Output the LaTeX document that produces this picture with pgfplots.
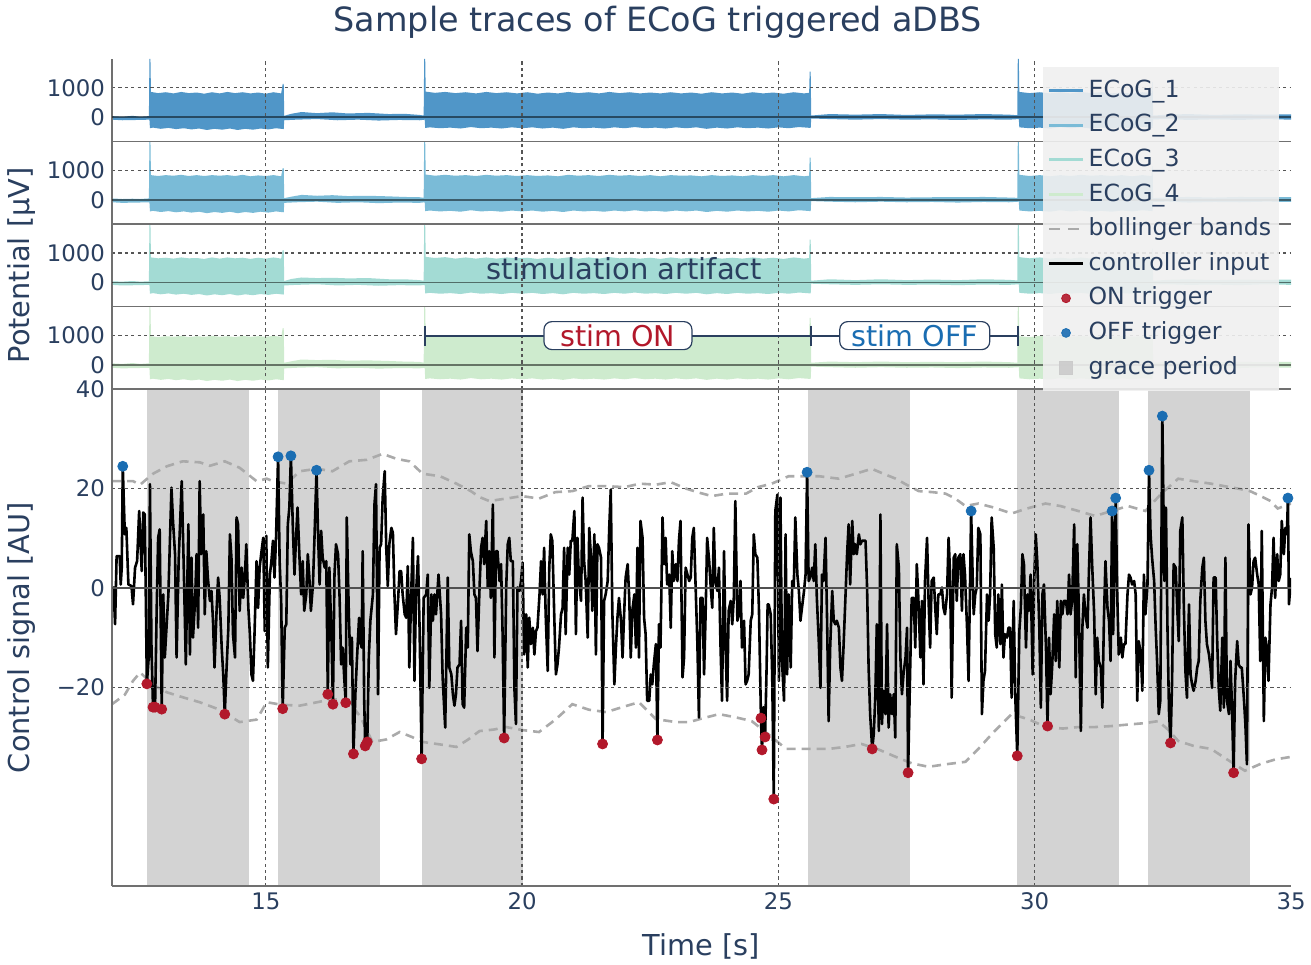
\documentclass[border=0pt]{standalone}
\usepackage{fontspec}
\setmainfont{DejaVu Sans}
\usepackage{pgfplots}
\usepackage{pgfplotstable}
\pgfplotsset{compat=1.18}

\definecolor{txt}{HTML}{2A3F5F}
\definecolor{ecogA}{HTML}{5096C8}
\definecolor{ecogB}{HTML}{7ABBD7}
\definecolor{ecogC}{HTML}{A3DBD4}
\definecolor{ecogD}{HTML}{CEEBCE}
\definecolor{onred}{HTML}{B2182B}
\definecolor{offblue}{HTML}{1A6DB2}
\definecolor{gracec}{HTML}{D3D3D3}
\definecolor{bband}{HTML}{AAAAAA}
\definecolor{axgray}{HTML}{707070}
\definecolor{gridc}{HTML}{555555}
\definecolor{zeroc}{HTML}{505050}
\definecolor{legbg}{HTML}{F0F0F0}

\pgfplotsset{
  panel/.style={scale only axis, width=589.5pt, xmin=12, xmax=35,
    axis x line*=bottom, axis y line*=left,
    axis line style={-, draw=axgray, line width=0.8pt},
    major tick length=0pt, axis on top,
    xmajorgrids, ymajorgrids,
    major grid style={draw=gridc, line width=0.6pt, dash pattern=on 1.6pt off 1.6pt},
    tick label style={font=\fontsize{11.4}{13}\selectfont, text=txt},
    xtick={15,20,25,30}},
  ecog/.style={panel, height=41.3pt, ymin=-820, ymax=1980,
    ytick={1000}, yticklabels={1000},
    extra y ticks={0}, extra y tick labels={0},
    extra y tick style={major grid style={solid, draw=black, opacity=0.5, line width=0.9pt}},
    xticklabels={}},
}

% ECoG envelopes (upper edge left->right, lower edge right->left), microvolts
\pgfplotstableread{
x e1 e2 e3 e4
12.00 40 50 40 60
12.20 20 30 30 40
12.40 50 40 50 70
12.55 20 30 30 40
12.72 40 50 40 60
12.73 1980 1980 1980 1980
12.75 1980 1980 1980 1980
12.76 860 840 850 980
12.90 820 810 820 950
13.05 850 840 840 980
13.20 810 820 810 960
13.35 860 850 850 990
13.50 820 810 820 950
13.65 840 840 830 980
13.80 800 810 800 960
13.95 850 840 850 990
14.10 810 820 810 960
14.25 860 840 850 980
14.40 820 810 820 950
14.55 850 850 840 990
14.70 810 800 800 960
14.85 840 830 840 980
15.00 800 810 810 960
15.15 850 840 850 990
15.30 810 800 810 960
15.33 1130 1080 1100 1250
15.35 1130 1080 1100 1250
15.36 50 60 50 80
15.50 120 110 120 130
15.70 180 170 170 190
16.00 140 140 150 170
16.30 170 160 160 180
16.60 130 130 140 150
17.00 150 140 150 160
17.40 110 120 110 140
17.70 120 100 110 120
18.00 80 90 80 110
18.08 60 70 60 80
18.09 1980 1980 1980 1980
18.11 1980 1980 1980 1980
18.12 870 860 870 990
18.30 830 820 830 960
18.50 860 850 860 990
18.70 820 820 810 950
18.90 850 840 850 990
19.10 810 810 810 960
19.30 860 850 850 980
19.50 820 820 810 950
19.70 850 840 850 990
19.90 810 810 820 960
20.10 850 840 840 980
20.30 800 810 800 950
20.50 840 830 840 980
20.70 810 800 810 960
20.90 860 850 850 990
21.10 820 820 810 950
21.30 850 840 850 980
21.50 810 810 810 960
21.70 860 850 860 990
21.90 820 820 820 950
22.10 850 840 840 980
22.30 810 810 810 960
22.50 840 840 840 990
22.70 810 800 800 950
22.90 850 840 850 980
23.10 810 820 810 960
23.30 840 830 840 990
23.50 800 800 800 950
23.70 850 840 850 980
23.90 810 810 810 960
24.10 840 830 840 990
24.30 800 800 810 950
24.50 850 840 850 980
24.70 810 810 810 960
24.90 840 840 840 990
25.10 800 800 800 950
25.30 850 840 850 980
25.50 810 800 810 950
25.60 830 820 830 960
25.61 1550 1430 1450 1600
25.63 1550 1430 1450 1600
25.64 60 60 60 80
26.00 110 100 110 120
26.50 90 90 80 100
27.00 110 100 110 120
27.50 80 80 80 100
28.00 100 90 100 110
28.50 90 90 80 100
29.00 110 100 110 120
29.50 90 80 90 100
29.66 70 70 70 80
29.67 1980 1980 1980 1980
29.69 1980 1980 1980 1980
29.70 860 850 860 980
29.90 820 810 820 950
30.10 850 840 850 990
30.30 810 800 810 960
30.50 850 840 840 980
30.70 810 810 810 950
30.90 860 850 850 990
31.10 820 820 810 960
31.30 850 840 850 980
31.50 810 810 810 950
31.70 840 840 840 990
31.90 800 800 800 960
32.10 850 840 850 980
32.28 820 810 820 960
32.29 1200 1150 1150 1300
32.30 1200 1150 1150 1300
32.31 60 60 60 80
32.60 90 90 90 110
33.00 110 100 110 120
33.50 80 80 80 100
34.00 100 100 100 110
34.50 90 90 90 100
35.00 100 90 100 110
35.00 -80 -70 -80 -90
34.50 -60 -60 -60 -70
34.00 -90 -80 -90 -100
33.50 -70 -70 -70 -80
33.00 -90 -90 -80 -100
32.60 -60 -60 -60 -70
32.31 -70 -70 -70 -80
32.30 -360 -380 -380 -470
32.10 -330 -350 -350 -440
31.90 -370 -390 -380 -480
31.70 -340 -360 -360 -450
31.50 -380 -400 -390 -490
31.30 -350 -370 -360 -460
31.10 -380 -400 -390 -480
30.90 -340 -360 -350 -450
30.70 -370 -390 -380 -480
30.50 -330 -350 -350 -440
30.30 -380 -400 -390 -490
30.10 -350 -370 -360 -460
29.90 -370 -390 -380 -480
29.70 -340 -360 -350 -450
29.69 -60 -60 -60 -70
29.50 -80 -80 -80 -90
29.00 -70 -70 -70 -80
28.50 -90 -90 -90 -100
28.00 -70 -70 -70 -80
27.50 -80 -80 -80 -90
27.00 -60 -60 -60 -70
26.50 -80 -80 -80 -90
26.00 -60 -60 -60 -70
25.64 -40 -40 -40 -50
25.63 -360 -380 -370 -470
25.40 -330 -350 -340 -440
25.20 -370 -390 -380 -480
25.00 -340 -360 -350 -450
24.80 -380 -400 -390 -490
24.60 -350 -370 -360 -460
24.40 -370 -390 -380 -480
24.20 -340 -360 -350 -450
24.00 -380 -400 -390 -490
23.80 -350 -370 -360 -460
23.60 -390 -410 -400 -500
23.40 -340 -360 -350 -450
23.20 -370 -390 -380 -480
23.00 -340 -360 -350 -450
22.80 -380 -400 -390 -490
22.60 -350 -370 -360 -460
22.40 -370 -390 -380 -480
22.20 -330 -350 -340 -440
22.00 -370 -390 -380 -480
21.80 -340 -360 -350 -450
21.60 -380 -400 -390 -490
21.40 -350 -370 -360 -460
21.20 -370 -390 -380 -480
21.00 -340 -360 -350 -450
20.80 -390 -410 -400 -500
20.60 -350 -370 -360 -460
20.40 -380 -400 -390 -490
20.20 -340 -360 -350 -450
20.00 -370 -390 -380 -480
19.80 -340 -360 -350 -450
19.60 -380 -400 -390 -490
19.40 -350 -370 -360 -460
19.20 -370 -390 -380 -480
19.00 -330 -350 -340 -440
18.80 -380 -400 -390 -490
18.60 -350 -370 -360 -460
18.40 -370 -390 -380 -480
18.20 -340 -360 -350 -450
18.11 -360 -380 -370 -470
18.10 -80 -80 -80 -90
18.00 -100 -100 -100 -110
17.60 -90 -90 -90 -100
17.20 -110 -110 -110 -120
16.80 -80 -80 -80 -90
16.40 -100 -100 -100 -110
16.00 -60 -60 -60 -70
15.60 -80 -80 -80 -90
15.36 -100 -100 -100 -110
15.35 -400 -420 -410 -510
15.20 -370 -390 -380 -480
15.05 -410 -430 -420 -520
14.90 -380 -400 -390 -490
14.75 -420 -440 -430 -530
14.60 -390 -410 -400 -500
14.45 -430 -450 -440 -540
14.30 -380 -400 -390 -490
14.15 -420 -440 -430 -530
14.00 -390 -410 -400 -500
13.85 -430 -450 -440 -540
13.70 -380 -400 -390 -490
13.55 -410 -430 -420 -520
13.40 -370 -390 -380 -480
13.25 -400 -420 -410 -510
13.10 -360 -380 -370 -470
12.95 -390 -410 -400 -500
12.80 -350 -370 -360 -460
12.74 -370 -390 -380 -480
12.73 -80 -80 -80 -90
12.50 -90 -90 -90 -100
12.20 -100 -100 -100 -110
12.00 -80 -80 -80 -90
}\ecogtab

% controller input
\pgfplotstableread{
x y
12.00 0.0
12.03 0.1
12.06 -7.3
12.09 6.4
12.15 6.4
12.17 0.7
12.19 4.1
12.21 24.5
12.25 10.8
12.28 12.1
12.32 0.7
12.38 0.4
12.41 -3.3
12.45 4.1
12.49 5.4
12.53 15.5
12.58 3.4
12.61 15.2
12.64 14.8
12.68 -19.3
12.72 -13.4
12.74 20.9
12.77 -12.0
12.80 -24.0
12.82 -20.0
12.84 -24.0
12.87 -5.3
12.90 10.1
12.93 11.8
12.97 -24.4
13.00 -1.3
13.03 -14.0
13.10 -1.3
13.13 9.5
13.16 20.2
13.19 13.5
13.23 6.8
13.26 -14.0
13.30 5.4
13.36 21.5
13.40 4.1
13.44 -15.4
13.49 12.8
13.52 -13.4
13.55 6.1
13.58 -10.0
13.62 -2.6
13.65 6.8
13.68 -8.0
13.71 21.5
13.74 6.8
13.78 14.8
13.81 -5.3
13.84 7.4
13.87 2.1
13.91 -2.6
13.94 -0.6
13.97 -6.6
14.00 -16.0
14.04 -4.6
14.07 2.1
14.10 -2.0
14.14 -12.0
14.17 -17.4
14.20 -25.4
14.23 -17.4
14.27 -8.0
14.30 10.8
14.33 6.1
14.36 -9.3
14.40 -14.0
14.43 14.2
14.46 12.8
14.49 -4.6
14.53 4.1
14.56 -2.0
14.59 2.1
14.62 8.8
14.66 -4.0
14.69 -9.3
14.72 -17.4
14.75 -18.7
14.78 -9.3
14.82 5.4
14.85 -4.0
14.88 4.1
14.91 6.8
14.95 10.1
14.98 -8.7
15.01 10.5
15.04 -16.0
15.08 2.7
15.11 5.4
15.14 9.5
15.17 2.1
15.20 10.1
15.24 26.4
15.27 5.4
15.30 -2.6
15.33 -24.3
15.37 -8.0
15.40 -7.3
15.43 12.8
15.46 16.2
15.49 26.6
15.53 11.5
15.56 2.7
15.59 10.1
15.62 16.2
15.66 5.4
15.69 -1.3
15.72 5.4
15.75 -4.6
15.79 -1.3
15.82 6.8
15.85 2.1
15.88 -4.6
15.92 0.7
15.95 10.1
15.99 23.7
16.02 10.8
16.05 0.7
16.08 11.5
16.11 6.1
16.15 4.1
16.18 5.4
16.21 -21.4
16.24 4.1
16.28 -9.3
16.31 -23.4
16.34 2.7
16.37 8.8
16.41 6.8
16.44 -2.0
16.47 -15.4
16.50 -12.0
16.53 -18.0
16.56 -23.1
16.58 14.2
16.62 -5.3
16.65 -15.4
16.68 -10.0
16.71 -33.4
16.75 -20.7
16.78 -14.0
16.82 -6.0
16.84 -10.7
16.87 -12.0
16.89 7.4
16.92 -22.7
16.94 -31.8
16.98 -31.0
17.01 -14.0
17.04 -6.6
17.09 -1.3
17.12 16.8
17.15 20.9
17.19 -21.4
17.22 8.1
17.25 8.8
17.28 18.1
17.32 23.5
17.35 8.1
17.38 0.4
17.41 8.8
17.45 12.1
17.48 11.1
17.51 -1.3
17.54 -9.3
17.58 -2.6
17.61 3.4
17.64 3.4
17.67 -1.3
17.71 -5.3
17.74 -6.0
17.77 4.4
17.80 -16.0
17.84 0.1
17.87 10.1
17.90 -18.7
17.93 -1.3
17.97 6.4
18.00 -8.0
18.04 -34.4
18.08 -2.0
18.13 -1.3
18.16 2.7
18.19 -20.1
18.23 -1.3
18.26 -6.6
18.29 -1.3
18.32 -5.3
18.37 2.7
18.42 -5.3
18.45 -18.0
18.50 -28.1
18.55 2.1
18.58 -16.0
18.62 -17.4
18.65 -21.4
18.68 -23.7
18.71 -21.4
18.74 -16.0
18.78 -15.4
18.81 -6.6
18.84 -23.4
18.87 -24.1
18.91 -8.0
18.94 -12.0
18.97 10.8
19.00 7.4
19.04 5.4
19.07 -1.3
19.10 -2.0
19.13 -12.7
19.17 0.1
19.20 8.1
19.23 10.1
19.26 4.8
19.30 13.5
19.33 0.1
19.36 7.4
19.39 -2.0
19.43 16.8
19.46 -14.0
19.49 7.4
19.52 7.4
19.56 1.4
19.59 4.8
19.62 -9.3
19.65 -30.2
19.69 0.1
19.72 8.8
19.75 10.1
19.78 5.4
19.82 5.4
19.85 -20.1
19.88 -27.4
19.91 0.1
19.95 -0.6
19.98 1.4
20.01 5.1
20.04 -13.4
20.08 -5.3
20.11 -16.0
20.14 -6.0
20.17 -11.3
20.21 -8.0
20.24 -13.4
20.27 -8.7
20.30 -8.0
20.34 -1.3
20.37 5.4
20.40 -1.3
20.43 8.1
20.46 -5.3
20.50 -16.7
20.53 4.1
20.56 10.8
20.59 9.5
20.63 -6.6
20.66 -17.4
20.69 -15.4
20.72 -12.0
20.76 -5.3
20.79 -4.0
20.82 8.1
20.85 -9.3
20.89 8.1
20.92 2.7
20.95 9.5
20.98 9.5
21.02 15.5
21.05 -9.3
21.08 10.1
21.11 1.4
21.15 -2.6
21.18 18.2
21.21 5.4
21.24 1.4
21.28 -10.0
21.31 12.1
21.34 6.8
21.37 -4.6
21.41 10.8
21.44 -13.4
21.47 8.8
21.50 8.1
21.54 6.1
21.57 -31.4
21.60 -2.6
21.63 -1.3
21.67 1.4
21.70 12.1
21.73 19.8
21.76 -4.6
21.80 -19.4
21.83 -12.0
21.86 -6.0
21.89 -2.0
21.93 -6.6
21.96 -14.0
21.99 -5.3
22.02 2.1
22.06 4.8
22.09 -2.0
22.12 -14.0
22.15 -4.6
22.19 -1.3
22.22 -12.0
22.25 8.1
22.28 -14.0
22.31 13.5
22.35 10.1
22.38 -6.0
22.41 -9.3
22.44 -22.7
22.48 -22.7
22.51 -17.4
22.54 -19.4
22.57 -15.4
22.61 -11.3
22.64 -30.6
22.67 -7.3
22.70 -12.0
22.74 14.2
22.77 4.8
22.80 10.1
22.83 0.7
22.87 2.7
22.90 -8.0
22.93 7.4
22.96 1.4
23.00 4.8
23.03 1.4
23.06 9.5
23.09 13.5
23.13 -18.0
23.16 -14.0
23.19 4.1
23.26 1.4
23.29 2.1
23.32 10.1
23.35 12.1
23.39 -1.3
23.42 -11.3
23.45 -26.1
23.48 -2.0
23.52 -2.0
23.55 -17.4
23.58 -5.3
23.61 10.1
23.65 5.4
23.68 0.1
23.71 -4.0
23.74 12.1
23.77 1.4
23.81 -0.6
23.84 4.1
23.87 -11.3
23.90 -22.7
23.94 7.4
23.97 -12.0
24.00 -22.7
24.03 -4.6
24.07 -2.6
24.10 -7.3
24.13 -2.0
24.16 17.5
24.20 -6.6
24.23 -5.3
24.26 1.4
24.29 -12.0
24.33 -6.6
24.36 -19.4
24.39 -18.7
24.42 -17.4
24.46 -6.6
24.49 -5.3
24.52 10.8
24.55 6.8
24.59 6.1
24.62 -4.0
24.66 -26.2
24.68 -32.6
24.71 -24.0
24.74 -30.0
24.77 -16.0
24.79 -3.3
24.81 -3.3
24.85 -5.3
24.88 -18.0
24.91 -42.5
24.94 15.5
24.98 18.8
25.01 -18.7
25.04 18.2
25.07 -14.7
25.11 -22.7
25.14 10.8
25.17 -17.4
25.20 -1.3
25.24 -16.0
25.27 1.4
25.30 0.1
25.33 14.2
25.37 2.7
25.40 -0.6
25.43 -6.6
25.46 -4.0
25.50 -0.6
25.53 2.7
25.56 23.3
25.59 1.4
25.62 2.1
25.66 4.1
25.69 1.4
25.72 8.8
25.75 -2.0
25.79 -11.3
25.82 -20.1
25.85 2.7
25.88 1.4
25.92 10.1
25.95 -6.6
25.98 -26.8
26.01 -12.0
26.05 -0.6
26.08 -6.6
26.11 -7.3
26.14 -6.6
26.18 -8.0
26.21 -16.0
26.24 -18.7
26.27 -12.0
26.31 -1.3
26.34 6.8
26.37 12.8
26.40 0.7
26.44 13.5
26.47 6.8
26.50 8.8
26.53 6.8
26.57 10.8
26.60 8.8
26.63 9.5
26.66 9.5
26.70 9.5
26.73 0.1
26.76 -16.0
26.79 -25.4
26.83 -32.4
26.86 -29.4
26.89 -22.1
26.92 -7.3
26.96 -28.8
26.99 14.8
27.02 -27.4
27.05 -20.7
27.09 -25.4
27.12 -7.3
27.15 -28.1
27.18 -21.4
27.22 -25.4
27.25 -21.4
27.28 -30.1
27.31 8.8
27.35 4.1
27.38 -14.0
27.41 -21.4
27.44 -17.4
27.48 -14.0
27.51 -8.0
27.53 -37.2
27.57 -16.7
27.60 -2.0
27.64 -2.0
27.67 -12.0
27.70 4.8
27.73 -2.0
27.77 -14.0
27.80 -2.6
27.83 -19.4
27.86 1.4
27.90 10.1
27.93 -2.6
27.96 -12.0
27.99 1.4
28.03 2.1
28.06 -4.0
28.09 -9.3
28.12 -1.3
28.16 -1.3
28.19 0.1
28.22 -4.0
28.25 -5.3
28.29 -1.3
28.32 10.1
28.35 2.7
28.38 -22.1
28.42 6.1
28.45 6.8
28.48 -2.6
28.51 6.1
28.55 6.8
28.58 -4.6
28.61 6.8
28.64 2.7
28.68 -8.0
28.71 -18.7
28.76 15.5
28.79 2.1
28.81 -5.3
28.84 -1.3
28.87 0.1
28.90 12.1
28.94 10.8
28.97 -25.4
29.00 -18.7
29.03 -16.7
29.07 -1.3
29.10 -6.6
29.13 -1.3
29.16 14.2
29.20 8.1
29.23 -9.3
29.26 -12.0
29.29 -1.3
29.33 -11.3
29.36 0.7
29.39 -14.0
29.42 -9.3
29.46 -10.0
29.49 -8.0
29.52 -8.0
29.55 -22.1
29.59 -2.6
29.62 -21.4
29.66 -33.8
29.70 -8.7
29.73 -4.0
29.76 6.8
29.79 4.8
29.83 -12.0
29.86 -1.3
29.89 -4.6
29.92 2.7
29.96 -17.4
29.99 1.4
30.02 10.8
30.05 5.4
30.09 -8.0
30.12 -24.1
30.15 -1.3
30.18 0.7
30.22 -12.0
30.25 -27.8
30.28 -10.0
30.31 -21.4
30.34 -16.0
30.38 -5.3
30.41 -14.7
30.44 -2.6
30.48 -16.0
30.51 -2.6
30.54 -5.3
30.57 -2.6
30.61 -2.6
30.64 -5.3
30.67 2.7
30.70 -5.3
30.73 -2.6
30.77 12.8
30.80 -18.0
30.83 8.8
30.86 -4.0
30.90 -28.8
30.93 -8.0
30.96 -1.3
30.99 -5.3
31.03 -8.0
31.06 4.1
31.09 14.2
31.12 4.8
31.16 -5.3
31.19 -21.4
31.22 -10.0
31.25 -14.7
31.29 -16.0
31.32 -24.1
31.35 -6.6
31.38 5.4
31.42 -4.0
31.45 -6.6
31.48 -14.7
31.51 15.5
31.53 -9.3
31.58 18.1
31.61 -1.3
31.64 -13.4
31.68 -10.0
31.71 -14.0
31.74 -11.3
31.77 -11.3
31.81 -1.3
31.84 2.7
31.87 2.1
31.90 0.7
31.94 1.4
31.97 -1.3
32.00 -22.7
32.03 -10.7
32.07 -13.4
32.10 -20.7
32.13 2.7
32.16 -5.3
32.20 0.7
32.23 23.7
32.26 10.8
32.29 6.1
32.33 1.4
32.36 -8.0
32.39 -15.4
32.42 -25.4
32.45 -22.7
32.49 34.6
32.53 1.4
32.56 16.2
32.59 -8.0
32.62 -24.7
32.65 -31.2
32.68 -18.7
32.71 4.8
32.75 4.1
32.78 -4.0
32.81 -10.7
32.84 11.5
32.88 14.2
32.91 -4.0
32.94 -16.7
32.97 -22.1
33.01 -3.3
33.04 -17.4
33.07 -19.4
33.10 -20.7
33.14 -18.7
33.17 -16.0
33.20 -14.7
33.23 -2.6
33.27 4.1
33.30 6.1
33.33 -6.6
33.36 -11.3
33.40 -13.4
33.43 -16.0
33.46 -20.1
33.49 2.1
33.53 2.1
33.56 -10.7
33.59 -20.1
33.62 -24.7
33.66 -10.0
33.69 -24.1
33.72 6.1
33.75 -22.7
33.79 -25.4
33.82 -14.7
33.85 -24.7
33.88 -37.2
33.91 -18.7
33.95 -10.7
33.98 -15.4
34.01 -16.0
34.04 -16.0
34.08 -22.1
34.11 -27.4
34.14 -35.5
34.17 12.8
34.21 -1.3
34.24 0.1
34.27 5.4
34.30 6.1
34.34 2.7
34.37 0.7
34.40 -14.7
34.43 11.5
34.47 -26.8
34.50 -10.0
34.53 -12.0
34.56 -18.7
34.60 -3.3
34.63 0.1
34.66 10.1
34.69 -2.0
34.73 6.8
34.76 1.4
34.79 2.7
34.82 13.5
34.86 6.8
34.89 12.1
34.92 10.8
34.94 18.1
34.96 -3.3
35.00 2.0
}\ctrltab

\pgfplotstableread{
x y
12.00 21.5
12.41 21.5
12.55 20.8
12.80 23.0
13.07 24.5
13.38 25.5
13.71 25.3
13.91 24.6
14.20 25.5
14.49 24.2
14.82 21.5
15.02 22.0
15.14 21.5
15.41 21.0
15.66 23.5
16.00 24.0
16.30 23.5
16.63 25.5
16.97 25.8
17.28 27.0
17.55 26.0
17.80 25.5
18.06 23.0
18.40 22.5
18.72 21.0
19.00 19.5
19.17 18.3
19.36 17.5
19.69 18.0
20.00 18.5
20.33 18.0
20.65 19.3
20.98 19.5
21.30 20.5
21.64 20.5
22.00 20.3
22.30 21.0
22.61 20.8
22.90 21.3
23.20 20.0
23.45 19.2
23.70 18.5
24.00 19.0
24.37 19.0
24.60 20.3
24.87 21.0
25.20 22.5
25.50 22.5
25.79 22.5
26.18 22.0
26.51 23.0
26.82 24.0
27.05 23.0
27.29 22.0
27.55 20.5
27.74 19.5
28.00 19.3
28.26 19.0
28.45 18.0
28.65 16.5
28.90 17.0
29.20 16.2
29.55 15.0
29.85 16.0
30.21 17.0
30.50 16.5
30.85 15.5
31.18 14.5
31.50 15.5
31.82 16.5
32.16 15.5
32.47 19.0
32.80 22.0
33.10 21.5
33.44 21.0
33.70 20.5
33.97 20.0
34.20 19.5
34.41 18.5
34.60 17.5
34.74 16.0
35.00 17.0
}\bbup

\pgfplotstableread{
x y
12.00 -23.4
12.25 -21.5
12.41 -18.7
12.55 -17.0
12.80 -19.5
13.07 -21.0
13.38 -22.0
13.71 -23.0
14.10 -24.5
14.49 -27.0
14.82 -26.5
15.02 -23.0
15.30 -23.5
15.66 -23.7
16.00 -23.0
16.30 -22.4
16.60 -22.5
16.85 -26.0
17.08 -31.0
17.35 -30.5
17.61 -29.0
17.85 -30.0
18.06 -31.0
18.40 -31.5
18.72 -32.0
18.95 -30.5
19.17 -28.8
19.45 -28.5
19.69 -28.0
20.00 -28.6
20.33 -29.0
20.65 -26.5
20.98 -23.4
21.30 -24.5
21.64 -25.0
21.95 -24.0
22.28 -23.0
22.61 -26.4
23.00 -27.0
23.26 -27.0
23.50 -26.3
23.84 -25.4
24.15 -26.0
24.48 -26.8
24.87 -30.0
25.15 -32.4
25.50 -32.4
25.98 -32.4
26.30 -32.0
26.62 -31.4
26.95 -32.5
27.29 -34.0
27.60 -35.3
27.93 -36.0
28.26 -35.5
28.65 -35.0
28.90 -32.4
29.20 -29.0
29.55 -25.4
29.90 -26.5
30.21 -28.0
30.55 -28.3
30.85 -28.0
31.18 -28.0
31.50 -27.8
31.82 -27.5
32.16 -27.2
32.41 -26.8
32.60 -28.5
32.80 -30.8
33.10 -31.8
33.44 -32.4
33.75 -34.5
34.10 -36.8
34.41 -35.4
34.70 -34.5
35.00 -34.0
}\bblow

\pgfplotstableread{
x y
12.68 -19.3
12.80 -24.0
12.84 -24.0
12.97 -24.4
14.20 -25.4
15.33 -24.3
16.21 -21.4
16.31 -23.4
16.56 -23.1
16.71 -33.4
16.94 -31.8
16.98 -31.0
18.04 -34.4
19.65 -30.2
21.57 -31.4
22.64 -30.6
24.66 -26.2
24.68 -32.6
24.74 -30.0
24.91 -42.5
26.83 -32.4
27.53 -37.2
29.66 -33.8
30.25 -27.8
32.65 -31.2
33.88 -37.2
}\ontrig

\pgfplotstableread{
x y
12.21 24.5
15.24 26.4
15.49 26.6
15.99 23.7
25.56 23.3
28.76 15.5
31.51 15.5
31.58 18.1
32.23 23.7
32.49 34.6
34.94 18.1
}\offtrig

\begin{document}
\begin{tikzpicture}
\useasboundingbox (0,0) rectangle (655.5pt,482pt);

% ---------------- control signal ----------------
\begin{axis}[panel, at={(56pt,39pt)}, anchor=south west, height=248.35pt,
  ymin=-60, ymax=40,
  ytick={-20,20,40}, yticklabels={−20,20,40},
  extra y ticks={0}, extra y tick labels={0},
  extra y tick style={major grid style={solid, draw=zeroc, line width=1pt}},
  xticklabels={15,20,25,30},
  extra x ticks={35}, extra x tick labels={35}, extra x tick style={grid=none},
  xlabel={Time [s]},
  xlabel style={at={(axis description cs:0.5,-0.1208)}, anchor=center, font=\fontsize{14.4}{17}\selectfont, text=txt},
  ylabel={Control signal [AU]},
  ylabel style={at={(axis description cs:-0.0763,0.5)}, anchor=center, font=\fontsize{14.4}{17}\selectfont, text=txt},
]
\addplot[fill=gracec, draw=none, forget plot] coordinates {(12.68,-60) (12.68,40) (14.67,40) (14.67,-60)} -- cycle;
\addplot[fill=gracec, draw=none, forget plot] coordinates {(15.23,-60) (15.23,40) (17.22,40) (17.22,-60)} -- cycle;
\addplot[fill=gracec, draw=none, forget plot] coordinates {(18.04,-60) (18.04,40) (20.02,40) (20.02,-60)} -- cycle;
\addplot[fill=gracec, draw=none, forget plot] coordinates {(25.57,-60) (25.57,40) (27.56,40) (27.56,-60)} -- cycle;
\addplot[fill=gracec, draw=none, forget plot] coordinates {(29.66,-60) (29.66,40) (31.65,40) (31.65,-60)} -- cycle;
\addplot[fill=gracec, draw=none, forget plot] coordinates {(32.21,-60) (32.21,40) (34.20,40) (34.20,-60)} -- cycle;
\addplot[bband, line width=1.3pt, dash pattern=on 4.5pt off 3pt, forget plot] table {\bbup};
\addplot[bband, line width=1.3pt, dash pattern=on 4.5pt off 3pt, forget plot] table {\bblow};
\addplot[black, line width=1.3pt, line join=round, forget plot] table {\ctrltab};
\addplot[only marks, mark=*, mark size=2.5pt, color=onred, mark options={draw=onred, fill=onred}, forget plot] table {\ontrig};
\addplot[only marks, mark=*, mark size=2.5pt, color=offblue, mark options={draw=offblue, fill=offblue}, forget plot] table {\offtrig};
\end{axis}

% ---------------- ECoG_4 ----------------
\begin{axis}[ecog, at={(56pt,287.35pt)}, anchor=south west]
\addplot[fill=ecogD, draw=none, forget plot] table[x=x, y=e4] {\ecogtab} -- cycle;
\coordinate (a1) at (axis cs:18.10,1000);
\coordinate (a2) at (axis cs:25.63,1000);
\coordinate (a3) at (axis cs:29.68,1000);
\coordinate (a1t) at (axis cs:18.10,1340);
\coordinate (a1b) at (axis cs:18.10,660);
\coordinate (a2t) at (axis cs:25.63,1340);
\coordinate (a2b) at (axis cs:25.63,660);
\coordinate (a3t) at (axis cs:29.68,1340);
\coordinate (a3b) at (axis cs:29.68,660);
\coordinate (onc) at (axis cs:21.87,1000);
\coordinate (offc) at (axis cs:27.66,1000);
\end{axis}
\draw[txt, line width=1pt] (a1) -- (a3);
\draw[txt, line width=1pt] (a1t) -- (a1b);
\draw[txt, line width=1pt] (a2t) -- (a2b);
\draw[txt, line width=1pt] (a3t) -- (a3b);
\node[draw=txt, line width=0.6pt, fill=white, rounded corners=4pt, minimum width=74pt, minimum height=14pt, inner sep=0pt,
      text=onred, font=\fontsize{14.3}{16}\selectfont] at (onc) {stim ON};
\node[draw=txt, line width=0.6pt, fill=white, rounded corners=4pt, minimum width=75pt, minimum height=14pt, inner sep=0pt,
      text=offblue, font=\fontsize{14.3}{16}\selectfont] at (offc) {stim OFF};

% ---------------- ECoG_3 ----------------
\begin{axis}[ecog, at={(56pt,328.65pt)}, anchor=south west,
  ylabel={Potential [µV]},
  ylabel style={at={(axis description cs:-0.0763,0.5)}, anchor=center, font=\fontsize{14.4}{17}\selectfont, text=txt}]
\addplot[fill=ecogC, draw=none, forget plot] table[x=x, y=e3] {\ecogtab} -- cycle;
\coordinate (sa) at (axis cs:21.99,480);
\end{axis}
\node[text=txt, font=\fontsize{14.5}{17}\selectfont] at (sa) {stimulation artifact};

% ---------------- ECoG_2 ----------------
\begin{axis}[ecog, at={(56pt,369.95pt)}, anchor=south west]
\addplot[fill=ecogB, draw=none, forget plot] table[x=x, y=e2] {\ecogtab} -- cycle;
\end{axis}

% ---------------- ECoG_1 (with title and legend) ----------------
\begin{axis}[ecog, at={(56pt,411.25pt)}, anchor=south west,
  title={Sample traces of ECoG triggered aDBS},
  title style={at={(axis description cs:0.463,1)}, anchor=center, yshift=12.2pt, font=\fontsize{16.7}{20}\selectfont, text=txt},
  legend cell align=left,
  legend style={at={(0.7897,0.904)}, anchor=north west, fill=legbg, fill opacity=0.9, text opacity=1, draw=none,
    font=\fontsize{11.8}{14}\selectfont, text=txt, row sep=2.8pt, inner xsep=2pt, inner ysep=4.5pt,
    nodes={inner xsep=2pt, inner ysep=1pt, text height=9.5pt, text depth=3pt}},
]
\addplot[fill=ecogA, draw=none, forget plot] table[x=x, y=e1] {\ecogtab} -- cycle;
\addlegendimage{ecogA, line width=1.5pt}\addlegendentry{ECoG\_1}
\addlegendimage{ecogB, line width=1.5pt}\addlegendentry{ECoG\_2}
\addlegendimage{ecogC, line width=1.5pt}\addlegendentry{ECoG\_3}
\addlegendimage{ecogD, line width=1.5pt}\addlegendentry{ECoG\_4}
\addlegendimage{bband, line width=1.3pt, dash pattern=on 5.5pt off 4pt}\addlegendentry{bollinger bands}
\addlegendimage{black, line width=1.5pt}\addlegendentry{controller input}
\addlegendimage{only marks, mark=*, mark size=2.2pt, color=onred, mark options={draw=onred, fill=onred}}\addlegendentry{ON trigger}
\addlegendimage{only marks, mark=*, mark size=2.2pt, color=offblue, mark options={draw=offblue, fill=offblue}}\addlegendentry{OFF trigger}
\addlegendimage{only marks, mark=square*, mark size=3.2pt, color=gracec!90!gray, mark options={draw=none, fill=gracec!90!gray}}\addlegendentry{grace period}
\end{axis}
\end{tikzpicture}
\end{document}
